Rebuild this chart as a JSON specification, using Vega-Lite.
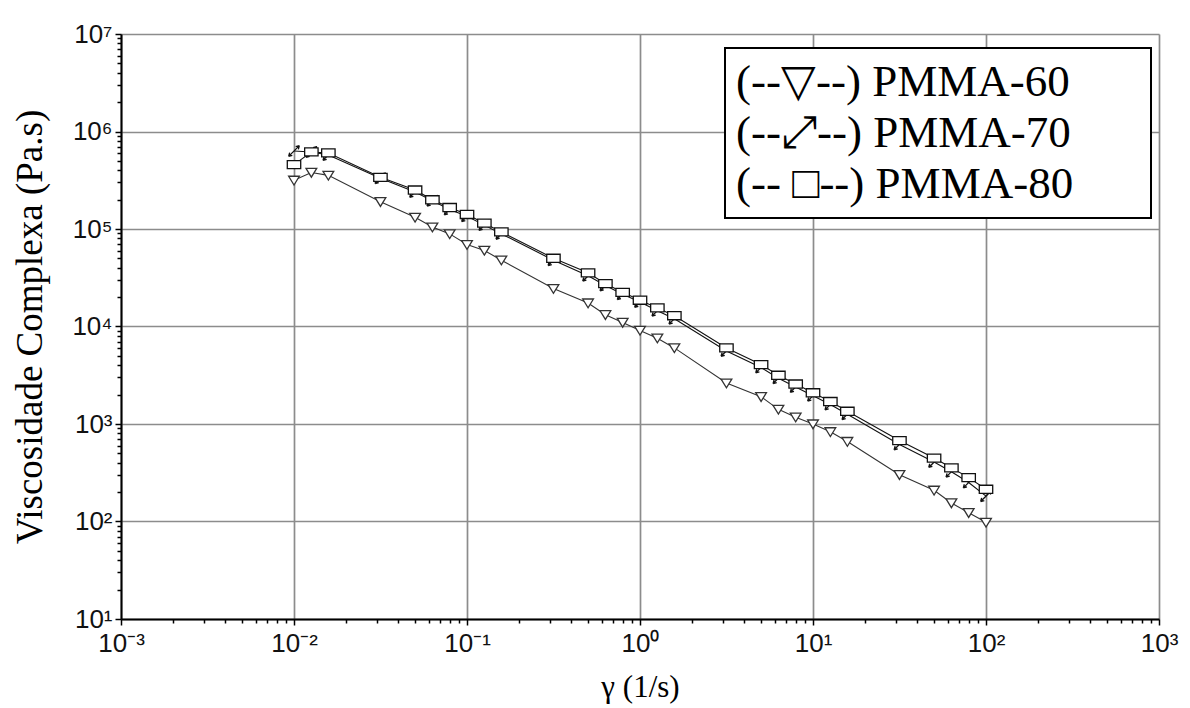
{
  "$schema": "https://vega.github.io/schema/vega-lite/v6.json",
  "width": 1038,
  "height": 585,
  "autosize": "none",
  "padding": {"left": 121, "top": 34, "right": 31, "bottom": 89},
  "background": "white",
  "config": {"view": {"stroke": null}},
  "data": {"values": [
    {"s": "PMMA-60", "x": 0.01, "y": 316000},
    {"s": "PMMA-60", "x": 0.0126, "y": 380000},
    {"s": "PMMA-60", "x": 0.0158, "y": 355000},
    {"s": "PMMA-60", "x": 0.0316, "y": 190500},
    {"s": "PMMA-60", "x": 0.0501, "y": 131800},
    {"s": "PMMA-60", "x": 0.0631, "y": 104700},
    {"s": "PMMA-60", "x": 0.0794, "y": 89100},
    {"s": "PMMA-60", "x": 0.1, "y": 69200},
    {"s": "PMMA-60", "x": 0.126, "y": 60300},
    {"s": "PMMA-60", "x": 0.158, "y": 47900},
    {"s": "PMMA-60", "x": 0.316, "y": 24500},
    {"s": "PMMA-60", "x": 0.501, "y": 17400},
    {"s": "PMMA-60", "x": 0.631, "y": 13200},
    {"s": "PMMA-60", "x": 0.794, "y": 11000},
    {"s": "PMMA-60", "x": 1, "y": 9120},
    {"s": "PMMA-60", "x": 1.26, "y": 7590},
    {"s": "PMMA-60", "x": 1.58, "y": 6030},
    {"s": "PMMA-60", "x": 3.16, "y": 2630},
    {"s": "PMMA-60", "x": 5.01, "y": 1905},
    {"s": "PMMA-60", "x": 6.31, "y": 1413},
    {"s": "PMMA-60", "x": 7.94, "y": 1175},
    {"s": "PMMA-60", "x": 10, "y": 1000},
    {"s": "PMMA-60", "x": 12.6, "y": 832},
    {"s": "PMMA-60", "x": 15.8, "y": 661},
    {"s": "PMMA-60", "x": 31.6, "y": 302},
    {"s": "PMMA-60", "x": 50.1, "y": 209},
    {"s": "PMMA-60", "x": 63.1, "y": 155},
    {"s": "PMMA-60", "x": 79.4, "y": 123},
    {"s": "PMMA-60", "x": 100, "y": 98},
    {"s": "PMMA-70", "x": 0.01, "y": 631000},
    {"s": "PMMA-70", "x": 0.0126, "y": 617000},
    {"s": "PMMA-70", "x": 0.0158, "y": 575000},
    {"s": "PMMA-70", "x": 0.0316, "y": 331000},
    {"s": "PMMA-70", "x": 0.0501, "y": 240000},
    {"s": "PMMA-70", "x": 0.0631, "y": 195000},
    {"s": "PMMA-70", "x": 0.0794, "y": 158500},
    {"s": "PMMA-70", "x": 0.1, "y": 135000},
    {"s": "PMMA-70", "x": 0.126, "y": 109600},
    {"s": "PMMA-70", "x": 0.158, "y": 89100},
    {"s": "PMMA-70", "x": 0.316, "y": 47900},
    {"s": "PMMA-70", "x": 0.501, "y": 33100},
    {"s": "PMMA-70", "x": 0.631, "y": 26300},
    {"s": "PMMA-70", "x": 0.794, "y": 21400},
    {"s": "PMMA-70", "x": 1, "y": 17800},
    {"s": "PMMA-70", "x": 1.26, "y": 14500},
    {"s": "PMMA-70", "x": 1.58, "y": 12000},
    {"s": "PMMA-70", "x": 3.16, "y": 5620},
    {"s": "PMMA-70", "x": 5.01, "y": 3800},
    {"s": "PMMA-70", "x": 6.31, "y": 2950},
    {"s": "PMMA-70", "x": 7.94, "y": 2400},
    {"s": "PMMA-70", "x": 10, "y": 1950},
    {"s": "PMMA-70", "x": 12.6, "y": 1585},
    {"s": "PMMA-70", "x": 15.8, "y": 1260},
    {"s": "PMMA-70", "x": 31.6, "y": 617},
    {"s": "PMMA-70", "x": 50.1, "y": 407},
    {"s": "PMMA-70", "x": 63.1, "y": 324},
    {"s": "PMMA-70", "x": 79.4, "y": 251},
    {"s": "PMMA-70", "x": 100, "y": 182},
    {"s": "PMMA-80", "x": 0.01, "y": 457000},
    {"s": "PMMA-80", "x": 0.0126, "y": 617000},
    {"s": "PMMA-80", "x": 0.0158, "y": 603000},
    {"s": "PMMA-80", "x": 0.0316, "y": 339000},
    {"s": "PMMA-80", "x": 0.0501, "y": 251000},
    {"s": "PMMA-80", "x": 0.0631, "y": 199500},
    {"s": "PMMA-80", "x": 0.0794, "y": 166000},
    {"s": "PMMA-80", "x": 0.1, "y": 141000},
    {"s": "PMMA-80", "x": 0.126, "y": 114800},
    {"s": "PMMA-80", "x": 0.158, "y": 93300},
    {"s": "PMMA-80", "x": 0.316, "y": 50100},
    {"s": "PMMA-80", "x": 0.501, "y": 35500},
    {"s": "PMMA-80", "x": 0.631, "y": 27500},
    {"s": "PMMA-80", "x": 0.794, "y": 22400},
    {"s": "PMMA-80", "x": 1, "y": 18600},
    {"s": "PMMA-80", "x": 1.26, "y": 15500},
    {"s": "PMMA-80", "x": 1.58, "y": 12900},
    {"s": "PMMA-80", "x": 3.16, "y": 6030},
    {"s": "PMMA-80", "x": 5.01, "y": 4070},
    {"s": "PMMA-80", "x": 6.31, "y": 3160},
    {"s": "PMMA-80", "x": 7.94, "y": 2570},
    {"s": "PMMA-80", "x": 10, "y": 2090},
    {"s": "PMMA-80", "x": 12.6, "y": 1700},
    {"s": "PMMA-80", "x": 15.8, "y": 1350},
    {"s": "PMMA-80", "x": 31.6, "y": 676},
    {"s": "PMMA-80", "x": 50.1, "y": 447},
    {"s": "PMMA-80", "x": 63.1, "y": 355},
    {"s": "PMMA-80", "x": 79.4, "y": 282},
    {"s": "PMMA-80", "x": 100, "y": 214}
  ]},
  "encoding": {
    "x": {
      "field": "x", "type": "quantitative",
      "scale": {"type": "log", "domain": [0.001, 1000], "nice": false},
      "axis": {
        "title": "γ (1/s)",
        "titleFont": "Liberation Serif", "titleFontSize": 31, "titleFontWeight": "normal", "titleColor": "black", "titlePadding": 16,
        "labelFont": "Liberation Sans", "labelFontSize": 26, "labelColor": "#111", "labelPadding": 5, "labelFlush": false, "labelOverlap": false,
        "values": [0.001,0.002,0.003,0.004,0.005,0.006,0.007,0.008,0.009,0.01,0.02,0.03,0.04,0.05,0.06,0.07,0.08,0.09,0.1,0.2,0.3,0.4,0.5,0.6,0.7,0.8,0.9,1,2,3,4,5,6,7,8,9,10,20,30,40,50,60,70,80,90,100,200,300,400,500,600,700,800,900,1000],
        "labelExpr": "abs(log(datum.value)/LN10 - round(log(datum.value)/LN10)) < 0.000001 ? '10' + (round(log(datum.value)/LN10) < 0 ? '⁻' : '') + ['⁰','¹','²','³','⁴','⁵','⁶','⁷'][abs(round(log(datum.value)/LN10))] : ''",
        "domainColor": "black", "domainWidth": 2,
        "tickColor": "black", "tickWidth": 1.5,
        "tickSize": {"condition": {"test": "abs(log(datum.value)/LN10 - round(log(datum.value)/LN10)) < 0.000001", "value": 6}, "value": 4},
        "gridColor": "#8c8c8c", "gridWidth": 1.7,
        "gridOpacity": {"condition": {"test": "abs(log(datum.value)/LN10 - round(log(datum.value)/LN10)) < 0.000001", "value": 1}, "value": 0}
      }
    },
    "y": {
      "field": "y", "type": "quantitative",
      "scale": {"type": "log", "domain": [10, 10000000], "nice": false},
      "axis": {
        "title": "Viscosidade Complexa (Pa.s)",
        "titleFont": "Liberation Serif", "titleFontSize": 37, "titleFontWeight": "normal", "titleColor": "black", "titlePadding": 22, "titleLimit": 1000,
        "labelFont": "Liberation Sans", "labelFontSize": 26, "labelColor": "#111", "labelPadding": 3, "labelFlush": false, "labelOverlap": false,
        "values": [10,20,30,40,50,60,70,80,90,100,200,300,400,500,600,700,800,900,1000,2000,3000,4000,5000,6000,7000,8000,9000,10000,20000,30000,40000,50000,60000,70000,80000,90000,100000,200000,300000,400000,500000,600000,700000,800000,900000,1000000,2000000,3000000,4000000,5000000,6000000,7000000,8000000,9000000,10000000],
        "labelExpr": "abs(log(datum.value)/LN10 - round(log(datum.value)/LN10)) < 0.000001 ? '10' + (round(log(datum.value)/LN10) < 0 ? '⁻' : '') + ['⁰','¹','²','³','⁴','⁵','⁶','⁷'][abs(round(log(datum.value)/LN10))] : ''",
        "domainColor": "black", "domainWidth": 2,
        "tickColor": "black", "tickWidth": 1.5,
        "tickSize": {"condition": {"test": "abs(log(datum.value)/LN10 - round(log(datum.value)/LN10)) < 0.000001", "value": 6}, "value": 4},
        "gridColor": "#8c8c8c", "gridWidth": 1.7,
        "gridOpacity": {"condition": {"test": "abs(log(datum.value)/LN10 - round(log(datum.value)/LN10)) < 0.000001", "value": 1}, "value": 0}
      }
    },
    "color": {
      "field": "s", "type": "nominal",
      "scale": {"domain": ["PMMA-60", "PMMA-70", "PMMA-80"], "range": ["#333333", "#111111", "#111111"]},
      "legend": {
        "title": null,
        "orient": "none", "legendX": 604, "legendY": 14,
        "labelExpr": "datum.label == 'PMMA-60' ? '(--▽--) PMMA-60⠀⠀' : datum.label == 'PMMA-70' ? '(--⤢--) PMMA-70⠀⠀' : '(-- □--) PMMA-80⠀⠀'",
        "labelFont": "Liberation Serif", "labelFontSize": 45, "labelColor": "black", "labelLimit": 0, "labelAlign": "left",
        "symbolType": "circle", "symbolOpacity": 0, "symbolSize": 1, "symbolStrokeWidth": 0, "labelOffset": -45,
        "strokeColor": "black", "fillColor": "white", "padding": 11, "rowPadding": 5,
        "encode": {"legend": {"update": {"strokeWidth": {"value": 2}}}}
      }
    }
  },
  "layer": [
    {"mark": {"type": "line", "strokeWidth": 1.1}, "encoding": {"detail": {"field": "s"}}},
    {"mark": {"type": "point", "filled": false, "fill": "white", "fillOpacity": 1, "strokeWidth": 1.3, "size": 180, "opacity": 1},
     "encoding": {
       "shape": {
         "field": "s", "type": "nominal",
         "scale": {"domain": ["PMMA-60", "PMMA-70", "PMMA-80"], "range": ["M-0.8,-0.6L0.8,-0.6L0,0.7Z", "M-0.8,0.8L0.8,-0.8M0.8,-0.8L0.25,-0.65M0.8,-0.8L0.65,-0.25M-0.8,0.8L-0.25,0.65M-0.8,0.8L-0.65,0.25", "M-1,-0.6L1,-0.6L1,0.6L-1,0.6Z"]},
         "legend": null
       }
     }}
  ]
}
